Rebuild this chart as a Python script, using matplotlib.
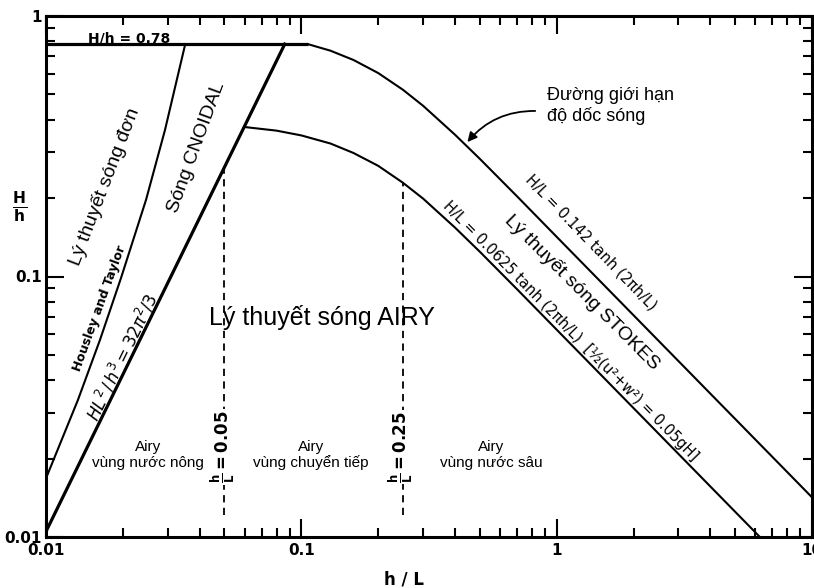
import matplotlib
matplotlib.use("Agg")
import matplotlib.pyplot as plt
from matplotlib.ticker import FixedLocator, LogLocator, NullFormatter

W, H = 814, 588
SANS = ["Liberation Sans", "DejaVu Sans"]
OLD = ["DejaVu Sans"]

# breaking limit H/L = 0.142 tanh(2*pi*h/L), capped by H/h = 0.78
cap_x = [0.01, 0.106]
cap_y = [0.78, 0.78]
break_x = [0.106, 0.13, 0.16, 0.2, 0.25, 0.3, 0.4, 0.5, 0.7, 1.0, 2.0, 5.0, 10.0]
break_y = [0.78, 0.736, 0.678, 0.604, 0.521, 0.452, 0.350, 0.283, 0.203, 0.142, 0.071, 0.0284, 0.0142]

# Stokes limit H/L = 0.0625 tanh(2*pi*h/L)
stokes_x = [0.0597, 0.08, 0.1, 0.13, 0.16, 0.2, 0.25, 0.3, 0.4, 0.5, 0.7, 1.0, 2.0, 6.25]
stokes_y = [0.375, 0.363, 0.348, 0.324, 0.298, 0.266, 0.229, 0.199, 0.154, 0.1245, 0.0893, 0.0625, 0.03125, 0.01]

# Ursell line HL^2/h^3 = 32 pi^2 / 3
ursell_x = [0.01, 0.0861]
ursell_y = [0.0105, 0.78]

# Housley and Taylor (solitary / cnoidal)
ht_x = [0.01, 0.01334, 0.01627, 0.01967, 0.02465, 0.02924, 0.0351]
ht_y = [0.0168, 0.0336, 0.0571, 0.0987, 0.197, 0.365, 0.78]

# depth limits h/L = 0.05 and 0.25
limit_x = [0.05, 0.25]
limit_top = [0.263, 0.229]
limit_bottom = 0.0121

xticks = [0.01, 0.1, 1, 10]
xtick_labels = ["0.01", "0.1", "1", "10"]
yticks = [0.01, 0.1, 1]
ytick_labels = ["0.01", "0.1", "1"]

fig = plt.figure(figsize=(W / 100, H / 100), dpi=100, facecolor="white")
ax = fig.add_axes([46 / W, 1 - 537 / H, 766 / W, 521 / H])
ax.set_xscale("log"); ax.set_yscale("log")
ax.set_xlim(0.01, 10); ax.set_ylim(0.01, 1)

ax.plot(cap_x, cap_y, color="black", lw=2.3, solid_capstyle="butt")
ax.plot(break_x, break_y, color="black", lw=1.5)
ax.plot(stokes_x, stokes_y, color="black", lw=1.5)
ax.plot(ursell_x, ursell_y, color="black", lw=2.3)
ax.plot(ht_x, ht_y, color="black", lw=1.5)
for xv, top in zip(limit_x, limit_top):
    ax.plot([xv, xv], [limit_bottom, top], color="black", lw=1.3, dashes=(4, 3))

for s in ax.spines.values():
    s.set_linewidth(2.2)
ax.xaxis.set_major_locator(FixedLocator(xticks))
ax.yaxis.set_major_locator(FixedLocator(yticks))
ax.set_xticklabels(xtick_labels, fontsize=11, fontweight="bold", family=OLD)
ax.set_yticklabels(ytick_labels, fontsize=11, fontweight="bold", family=OLD)
for axis in (ax.xaxis, ax.yaxis):
    axis.set_minor_locator(LogLocator(base=10, subs=range(2, 10)))
    axis.set_minor_formatter(NullFormatter())
ax.tick_params(which="both", direction="in", top=True, right=True, width=1.5)
ax.tick_params(which="major", length=13)
ax.tick_params(which="minor", length=6.5)
ax.tick_params(axis="x", pad=4)
ax.tick_params(axis="y", pad=3)


def fpos(x, y):
    return x / W, 1 - y / H


def ftext(x, y, s, **kw):
    fx, fy = fpos(x, y)
    fig.text(fx, fy, s, ha=kw.pop("ha", "center"), va=kw.pop("va", "center"), **kw)


# axis labels
ftext(404, 580, "h / L", fontsize=12, fontweight="bold", family=OLD)
ftext(20, 207, r"$\mathbf{\frac{H}{h}}$", fontsize=16)

ftext(88, 38, "H/h = 0.78", ha="left", fontsize=10, fontweight="bold", family=OLD)
ftext(105, 187, "Lý thuyết sóng đơn", rotation=69, rotation_mode="anchor", fontsize=14, family=SANS)
ftext(197, 147, "Sóng CNOIDAL", rotation=70, rotation_mode="anchor", fontsize=14, family=SANS)
ftext(100, 308, "Housley and Taylor", rotation=70, rotation_mode="anchor", fontsize=9, fontweight="bold", family=OLD)
ftext(122, 357, r"$HL^2\,/\,h^3 = 32\pi^2/3$", rotation=64, rotation_mode="anchor", fontsize=12)
ftext(322, 317, "Lý thuyết sóng AIRY", fontsize=18, family=SANS)

ftext(148, 455, "Airy\nvùng nước nông", fontsize=11, family=SANS, linespacing=1.15)
ftext(311, 455, "Airy\nvùng chuyển tiếp", fontsize=11, family=SANS, linespacing=1.15)
ftext(491, 455, "Airy\nvùng nước sâu", fontsize=11, family=SANS, linespacing=1.15)

box = dict(facecolor="white", edgecolor="none", pad=1)
ftext(223, 447, r"$\mathbf{\frac{h}{L} = 0.05}$", rotation=90, fontsize=12, bbox=box)
ftext(401, 447, r"$\mathbf{\frac{h}{L} = 0.25}$", rotation=90, fontsize=12, bbox=box)

ftext(547, 106, "Đường giới hạn\nđộ dốc sóng", ha="left", fontsize=13, family=SANS, linespacing=1.2)
ax.annotate("", xy=(0.44, 0.322), xycoords="data",
            xytext=fpos(538, 111), textcoords="figure fraction",
            arrowprops=dict(arrowstyle="-|>", color="black", lw=1.3,
                            connectionstyle="arc3,rad=0.25", mutation_scale=14))

ftext(591, 242, "H/L = 0.142 tanh (2πh/L)", rotation=-46, rotation_mode="anchor",
      fontsize=10.5, family=OLD)
ftext(582, 292, "Lý thuyết sóng STOKES", rotation=-45, rotation_mode="anchor",
      fontsize=14, family=SANS)
ftext(571, 331, "H/L = 0.0625 tanh (2πh/L)  [½(u²+w²) = 0.05gH]", rotation=-45.5,
      rotation_mode="anchor", fontsize=10.5, family=OLD)

fig.savefig("out.png", dpi=100, facecolor="white")
